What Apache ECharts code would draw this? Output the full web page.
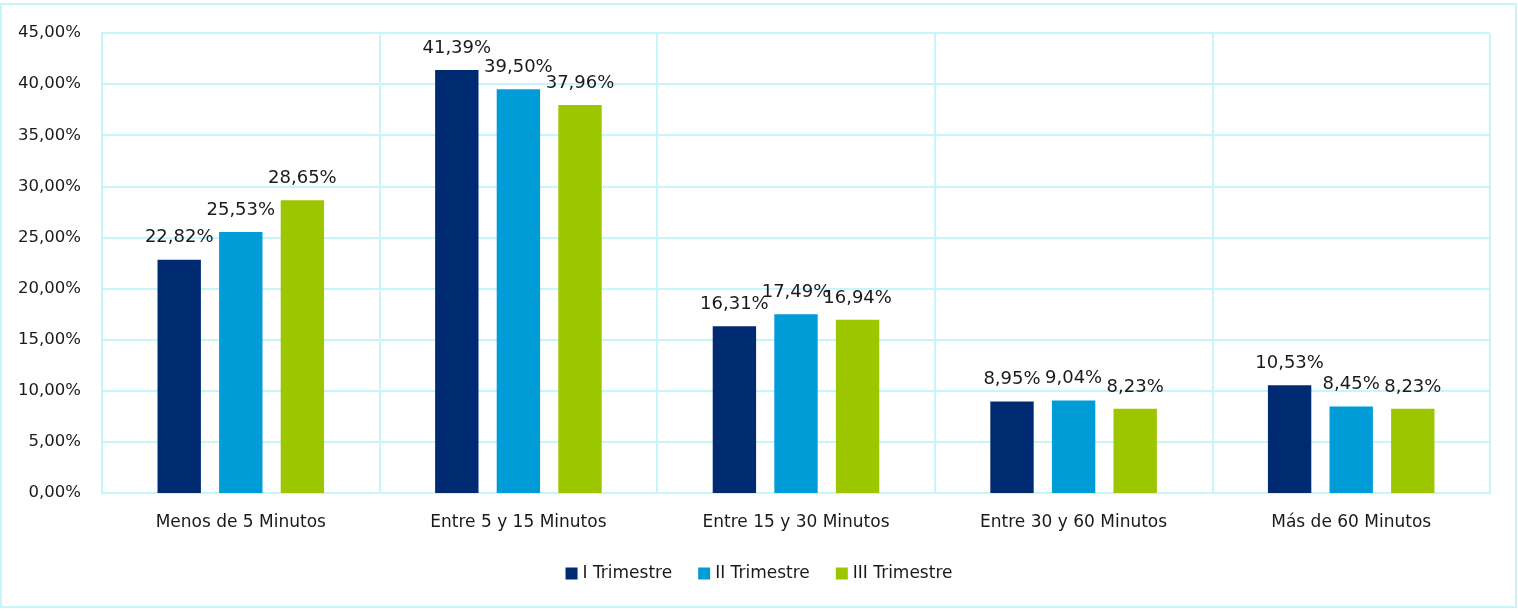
<!DOCTYPE html>
<html>
<head>
<meta charset="utf-8">
<script src="https://cdn.jsdelivr.net/npm/echarts@6/dist/echarts.min.js"></script>
<style>
  html, body { margin: 0; padding: 0; background: #fff; }
  #chart { width: 1518px; height: 611px; }
</style>
</head>
<body>
<div id="chart"></div>
<script>
// Duración de las llamadas por trimestre (porcentaje)
const categories = ['Menos de 5 Minutos', 'Entre 5 y 15 Minutos', 'Entre 15 y 30 Minutos', 'Entre 30 y 60 Minutos', 'Más de 60 Minutos'];
const trimestre1 = [22.82, 41.39, 16.31, 8.95, 10.53];
const trimestre2 = [25.53, 39.50, 17.49, 9.04, 8.45];
const trimestre3 = [28.65, 37.96, 16.94, 8.23, 8.23];
const seriesNames = ['I Trimestre', 'II Trimestre', 'III Trimestre'];
const colors = ['#002A72', '#009CD8', '#9CC600'];

const FONT = '"DejaVu Sans", sans-serif';
const TEXT_COLOR = '#1a1a1a';
const GRID_COLOR = '#C6F6FA';

const fmt = v => v.toFixed(2).replace('.', ',') + '%';

function makeSeries(name, data, color) {
  return {
    name: name,
    type: 'bar',
    data: data,
    barGap: '42%',
    barCategoryGap: '40%',
    itemStyle: { color: color },
    label: {
      show: true,
      position: 'top',
      distance: 13,
      color: TEXT_COLOR,
      fontFamily: FONT,
      fontSize: 18,
      formatter: p => fmt(p.value)
    }
  };
}

const chart = echarts.init(document.getElementById('chart'));
chart.setOption({
  animation: false,
  backgroundColor: '#fff',
  graphic: [{
    type: 'rect',
    shape: { x: 1, y: 4, width: 1515, height: 603 },
    style: { fill: 'none', stroke: GRID_COLOR, lineWidth: 2 },
    silent: true
  }],
  grid: { left: 102, right: 28, top: 33, bottom: 118 },
  legend: {
    bottom: 24,
    left: 'center',
    icon: 'rect',
    itemWidth: 12,
    itemHeight: 12,
    itemGap: 26,
    textStyle: { fontFamily: FONT, fontSize: 17, color: TEXT_COLOR },
    data: seriesNames
  },
  xAxis: {
    type: 'category',
    data: categories,
    axisLine: { show: true, lineStyle: { color: GRID_COLOR, width: 2 } },
    axisTick: { show: false },
    splitLine: { show: true, lineStyle: { color: GRID_COLOR, width: 2 } },
    axisLabel: { fontFamily: FONT, fontSize: 17, color: TEXT_COLOR, margin: 21 }
  },
  yAxis: {
    type: 'value',
    min: 0,
    max: 45,
    interval: 5,
    axisLine: { show: true, lineStyle: { color: GRID_COLOR, width: 2 } },
    axisTick: { show: false },
    splitLine: { show: true, lineStyle: { color: GRID_COLOR, width: 2 } },
    axisLabel: { fontFamily: FONT, fontSize: 16.5, color: TEXT_COLOR, margin: 21, formatter: v => fmt(v) }
  },
  series: [
    makeSeries(seriesNames[0], trimestre1, colors[0]),
    makeSeries(seriesNames[1], trimestre2, colors[1]),
    makeSeries(seriesNames[2], trimestre3, colors[2])
  ]
});
</script>
</body>
</html>
